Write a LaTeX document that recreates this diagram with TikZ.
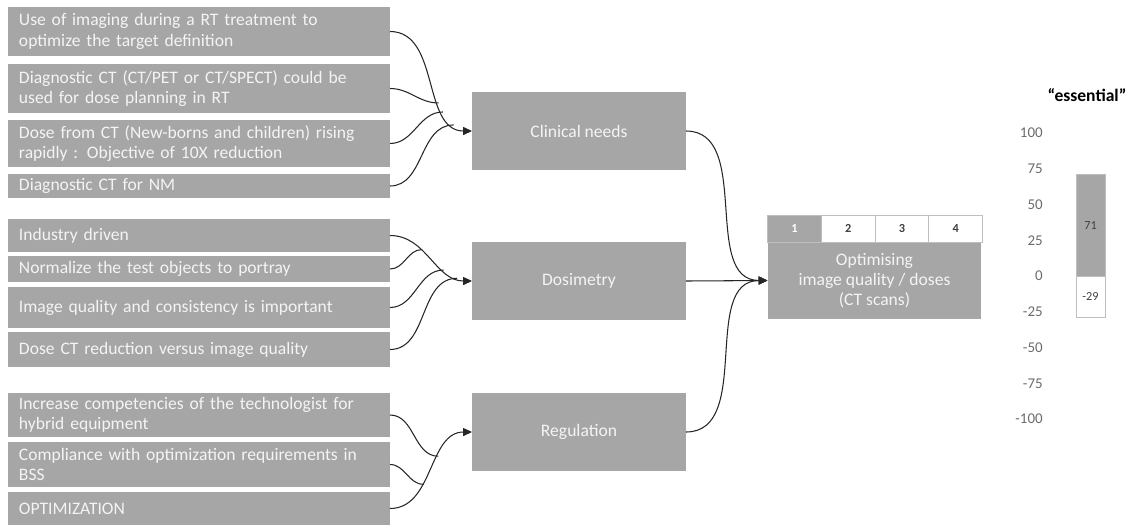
\documentclass[tikz,border=0pt]{standalone}
\usepackage{fontspec}
\setmainfont{Carlito}
\usepackage{xcolor}
\usetikzlibrary{arrows.meta}
\usetikzlibrary{calc}
\usetikzlibrary{positioning}
\definecolor{boxgray}{HTML}{A6A6A6}
\definecolor{boxtext}{HTML}{F4F4F4}
\definecolor{linkgray}{HTML}{262626}
\definecolor{cellline}{HTML}{BFBFBF}
\definecolor{axistext}{HTML}{6B6B6B}
\definecolor{cellnum}{HTML}{404040}
\tikzset{
  causebox/.style={fill=boxgray,anchor=north west,text width=7.2cm,inner xsep=0.22cm,inner ysep=0pt,outer sep=0pt,align=left,text=boxtext,font=\fontsize{10}{11.5}\selectfont},
  themebox/.style={fill=boxgray,minimum width=4.28cm,minimum height=1.56cm,outer sep=0pt,text=boxtext,font=\fontsize{10}{11.5}\selectfont},
  rankcell/.style={draw=cellline,minimum width=1.075cm,minimum height=0.54cm,inner sep=0pt,outer sep=0pt,font=\fontsize{7}{8}\selectfont\bfseries},
  axislabel/.style={anchor=east,inner sep=0pt,text=axistext,font=\fontsize{8.5}{10}\selectfont},
  barlabel/.style={inner sep=0pt,text=cellnum,font=\fontsize{7}{8}\selectfont},
  link/.style={draw=linkgray,line width=0.6pt},
  linkarrow/.style={link,-{Triangle[length=5pt,width=4.5pt]}}
}

\begin{document}
\begin{tikzpicture}[x=0.02cm,y=-0.02cm]
        \newcommand{\essentialzero}{276}
        \newcommand{\essentialunit}{1.43}
        \useasboundingbox (0,0) rectangle (1135,525);
        % causes
        \node[causebox,minimum height=0.98cm] (imaging) at (8,7) {Use of imaging during a RT treatment to\\optimize the target definition};
        \node[causebox,minimum height=0.98cm] (planning) at (8,64) {Diagnostic CT (CT/PET or CT/SPECT) could be\\used for dose planning in RT};
        \node[causebox,minimum height=0.94cm] (newborns) at (8,120) {Dose from CT (New-borns and children) rising\\rapidly : Objective of 10X reduction};
        \node[causebox,minimum height=0.48cm] (nmct) at (8,174) {Diagnostic CT for NM};
        \node[causebox,minimum height=0.66cm] (industry) at (8,219) {Industry driven};
        \node[causebox,minimum height=0.52cm] (testobj) at (8,256) {Normalize the test objects to portray};
        \node[causebox,minimum height=0.82cm] (quality) at (8,287) {Image quality and consistency is important};
        \node[causebox,minimum height=0.70cm] (reduction) at (8,332) {Dose CT reduction versus image quality};
        \node[causebox,minimum height=0.88cm] (competency) at (8,393) {Increase competencies of the technologist for\\hybrid equipment};
        \node[causebox,minimum height=0.90cm] (compliance) at (8,442) {Compliance with optimization requirements in\\BSS};
        \node[causebox,minimum height=0.66cm] (optim) at (8,492) {OPTIMIZATION};
        % themes
        \node[themebox] (clin) at (579,131) {Clinical needs};
        \node[themebox] (dosi) at (579,281) {Dosimetry};
        \node[themebox] (regu) at (579,432) {Regulation};
        % topic and its ranking
        \node[themebox,minimum height=1.54cm,align=center] (optbody) at (874.5,280.5) {Optimising\\image quality / doses\\(CT scans)};
        \node[rankcell,fill=boxgray,text=white,anchor=south west] (rank1) at (optbody.north west) {1};
        \node[rankcell,fill=white,text=cellnum,right=0pt of rank1] (rank2) {2};
        \node[rankcell,fill=white,text=cellnum,right=0pt of rank2] (rank3) {3};
        \node[rankcell,fill=white,text=cellnum,right=0pt of rank3] (rank4) {4};
        % links
        \draw[linkarrow] (imaging.east) to[out=0,in=180] coordinate[pos=0.65] (clinj2) coordinate[pos=0.72] (clinj3) coordinate[pos=0.85] (clinj4) (clin.west);
        \draw[link] (planning.east) to[out=0,in=180] (clinj2);
        \draw[link] (newborns.east) to[out=0,in=180] (clinj3);
        \draw[link] (nmct.east) to[out=0,in=180] (clinj4);
        \draw[linkarrow] (industry.east) to[out=0,in=180] coordinate[pos=0.37] (dosj6) coordinate[pos=0.68] (dosj7) coordinate[pos=0.85] (dosj8) (dosi.west);
        \draw[link] (testobj.east) to[out=0,in=180] (dosj6);
        \draw[link] (quality.east) to[out=0,in=180] (dosj7);
        \draw[link] (reduction.east) to[out=0,in=180] (dosj8);
        \draw[linkarrow] (optim.east) to[out=0,in=180] coordinate[pos=0.375] (regj10) coordinate[pos=0.625] (regj9) (regu.west);
        \draw[link] (competency.east) to[out=0,in=180] (regj9);
        \draw[link] (compliance.east) to[out=0,in=180] (regj10);
        \draw[linkarrow] (clin.east) to[out=0,in=180] (optbody.west);
        \draw[linkarrow] (dosi.east) -- (optbody.west);
        \draw[linkarrow] (regu.east) to[out=0,in=180] (optbody.west);
        % essential bar
        \node[font=\fontsize{10}{12}\selectfont\bfseries] (esstitle) at (1087,95) {“essential”};
        \node[axislabel] (tick100) at (1043,\essentialzero-100*\essentialunit) {100};
        \node[axislabel] (tick75) at (1043,\essentialzero-75*\essentialunit) {75};
        \node[axislabel] (tick50) at (1043,\essentialzero-50*\essentialunit) {50};
        \node[axislabel] (tick25) at (1043,\essentialzero-25*\essentialunit) {25};
        \node[axislabel] (tick0) at (1043,\essentialzero) {0};
        \node[axislabel] (tickm25) at (1043,\essentialzero+25*\essentialunit) {-25};
        \node[axislabel] (tickm50) at (1043,\essentialzero+50*\essentialunit) {-50};
        \node[axislabel] (tickm75) at (1043,\essentialzero+75*\essentialunit) {-75};
        \node[axislabel] (tickm100) at (1043,\essentialzero+100*\essentialunit) {-100};
        \draw[fill=boxgray,draw=cellline] (1076,\essentialzero) rectangle (1105,\essentialzero-71*\essentialunit);
        \draw[fill=white,draw=cellline] (1076,\essentialzero) rectangle (1105,\essentialzero+29*\essentialunit);
        \node[barlabel] (val71) at (1090.5,\essentialzero-35.5*\essentialunit) {71};
        \node[barlabel] (valm29) at (1090.5,\essentialzero+14.5*\essentialunit) {-29};
    \end{tikzpicture}
\end{document}
